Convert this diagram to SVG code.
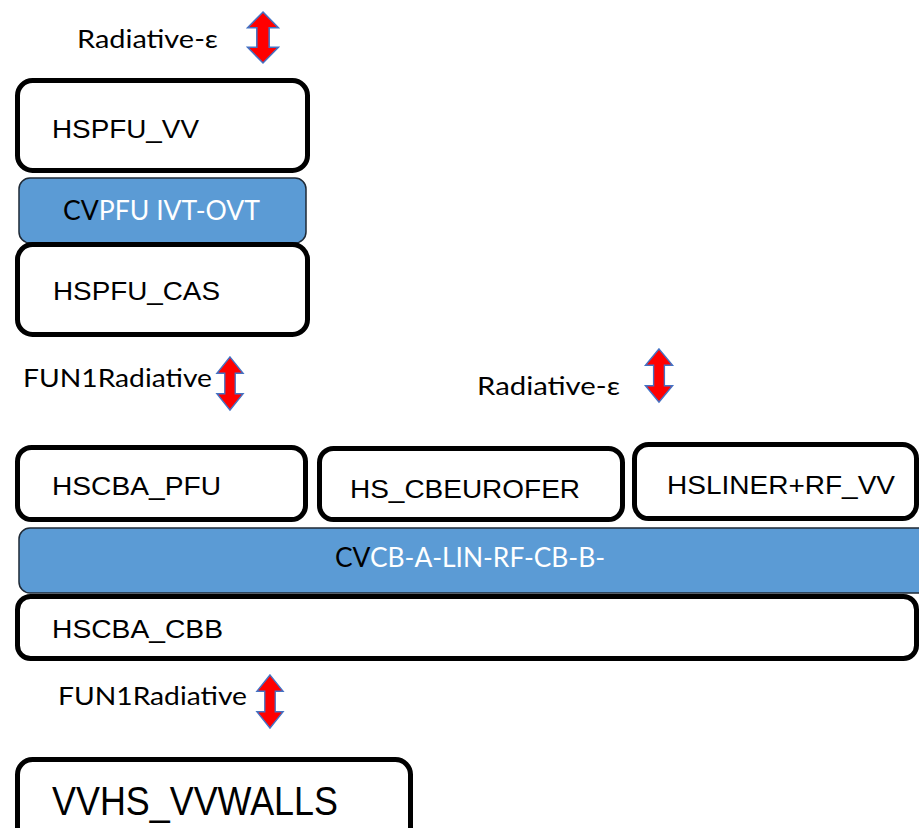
<svg xmlns="http://www.w3.org/2000/svg" xmlns:xlink="http://www.w3.org/1999/xlink" width="919" height="828" viewBox="0 0 919 828">
<style>
.hs{fill:#ffffff;stroke:#000000;stroke-width:5}
.cv{fill:#5B9BD5;stroke:#1f2a36;stroke-width:1.5}
.t{font-family:"Liberation Sans",Arial,sans-serif;fill:#000000}
.c{font-family:Lato,"Open Sans","DejaVu Sans",sans-serif}
.lbl{font-family:Lato,"Open Sans","DejaVu Sans",sans-serif;fill:#000000;font-size:25px}
.w{fill:#ffffff}
.k{fill:#000000}
.arr{fill:#FF0000;stroke:#4472C4;stroke-width:1.5;stroke-linejoin:miter}
</style>
<defs>
<path id="dbl" d="M0,-26 L15,-10 L6,-10 L6,10 L15,10 L0,26 L-15,10 L-6,10 L-6,-10 L-15,-10 Z"/>
</defs>
<rect width="919" height="828" fill="#ffffff"/>

<g id="label-rad1"><text class="lbl" x="77" y="48" textLength="141" lengthAdjust="spacingAndGlyphs">Radiative-ε</text></g>
<g id="label-fun1"><text class="lbl" x="23" y="387" textLength="189" lengthAdjust="spacingAndGlyphs">FUN1Radiative</text></g>
<g id="label-rad2"><text class="lbl" x="477" y="395" textLength="143" lengthAdjust="spacingAndGlyphs">Radiative-ε</text></g>
<g id="label-fun2"><text class="lbl" x="58" y="705" textLength="189" lengthAdjust="spacingAndGlyphs">FUN1Radiative</text></g>

<g id="HSPFU_VV">
<rect class="hs" x="17.5" y="80.5" width="290" height="90" rx="15"/>
<text class="t" x="52" y="138" font-size="25" textLength="147" lengthAdjust="spacingAndGlyphs">HSPFU_VV</text>
</g>
<g id="CVPFU">
<rect class="cv" x="19" y="178" width="287" height="65" rx="11"/>
<text class="c" x="63" y="220" font-size="27" textLength="197" lengthAdjust="spacingAndGlyphs"><tspan class="k">CV</tspan><tspan class="w">PFU IVT-OVT</tspan></text>
</g>
<g id="HSPFU_CAS">
<rect class="hs" x="17.5" y="244.5" width="290" height="90" rx="15"/>
<text class="t" x="53" y="300" font-size="25" textLength="167" lengthAdjust="spacingAndGlyphs">HSPFU_CAS</text>
</g>

<g id="HSCBA_PFU">
<rect class="hs" x="17.5" y="447.5" width="288" height="72" rx="14"/>
<text class="t" x="52" y="495" font-size="25" textLength="169" lengthAdjust="spacingAndGlyphs">HSCBA_PFU</text>
</g>
<g id="HS_CBEUROFER">
<rect class="hs" x="319.5" y="448.5" width="303" height="71" rx="14"/>
<text class="t" x="350" y="498" font-size="25" textLength="230" lengthAdjust="spacingAndGlyphs">HS_CBEUROFER</text>
</g>
<g id="HSLINER_RF_VV">
<rect class="hs" x="634.5" y="444.5" width="282" height="74" rx="14"/>
<text class="t" x="667" y="494" font-size="25" textLength="228" lengthAdjust="spacingAndGlyphs">HSLINER+RF_VV</text>
</g>
<g id="CVCB">
<rect class="cv" x="19" y="528" width="910" height="65" rx="11"/>
<text class="c" x="335" y="567" font-size="27" textLength="270" lengthAdjust="spacingAndGlyphs"><tspan class="k">CV</tspan><tspan class="w">CB-A-LIN-RF-CB-B-</tspan></text>
</g>
<g id="HSCBA_CBB">
<rect class="hs" x="17.5" y="596.5" width="899" height="62" rx="13"/>
<text class="t" x="52" y="638" font-size="25" textLength="171" lengthAdjust="spacingAndGlyphs">HSCBA_CBB</text>
</g>

<g id="VVHS_VVWALLS">
<rect class="hs" x="17.5" y="759.5" width="393" height="90" rx="15"/>
<text class="t" x="52" y="815" font-size="40" textLength="286" lengthAdjust="spacingAndGlyphs">VVHS_VVWALLS</text>
</g>

<g id="connectors">
<use xlink:href="#dbl" class="arr" transform="translate(263,37.5) scale(1.03,0.98)"/>
<use xlink:href="#dbl" class="arr" transform="translate(230,383.5) scale(0.87,1.02)"/>
<use xlink:href="#dbl" class="arr" transform="translate(659,375.5) scale(0.9,1.02)"/>
<use xlink:href="#dbl" class="arr" transform="translate(270,701.5) scale(0.87,1.02)"/>
</g>
</svg>
